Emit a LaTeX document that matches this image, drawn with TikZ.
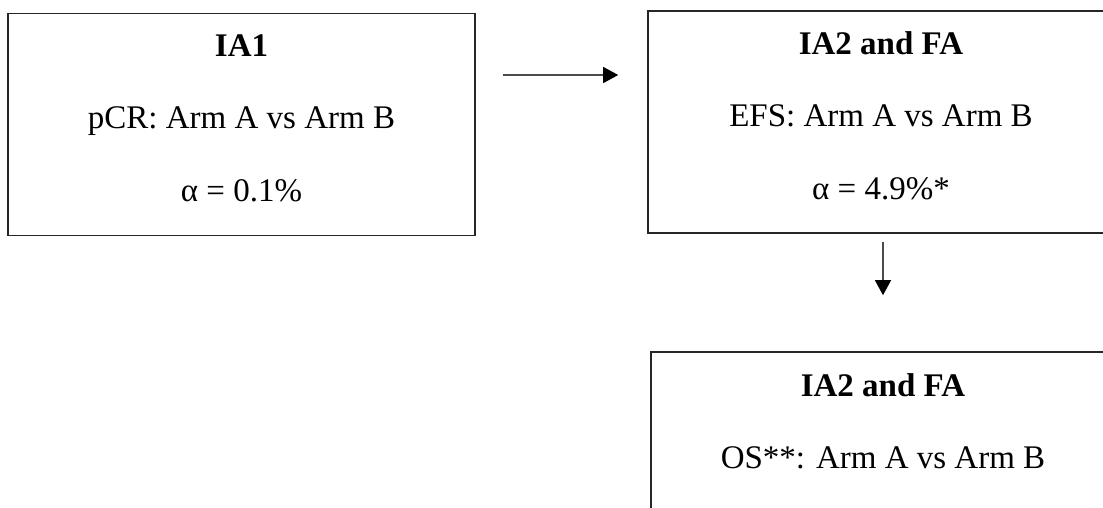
\documentclass[tikz,border=0pt]{standalone}
\usepackage{fontspec}
\setmainfont{Liberation Serif}
\usetikzlibrary{arrows.meta}
\begin{document}
\begin{tikzpicture}[x=1pt,y=-1pt,
  boxnode/.style={draw=black!85, line width=1.6pt, inner sep=0pt, minimum height=222pt},
  txt/.style={anchor=base, inner sep=0pt, font=\fontsize{33}{40}\selectfont},
  arr/.style={draw=black!70, line width=1.2pt, -{Triangle[length=15pt,width=16pt,color=black]}}]
\useasboundingbox (0,0) rectangle (1103,507);
\clip (0,0) rectangle (1103,507);
% boxes
\node[boxnode, minimum width=467pt] (b1) at (241.5,124.5) {};
\node[boxnode, minimum width=470pt] (b2) at (883,122) {};
\node[boxnode, minimum width=466pt] (b3) at (884,463) {};
% texts box 1
\node[txt] (b1h) at (241.5,56) {\textbf{IA1}};
\node[txt] (b1m) at (241.5,128.5) {pCR: Arm A vs Arm B};
\node[txt] (b1a) at (241.5,201) {α = 0.1\%};
% texts box 2
\node[txt] (b2h) at (881,54) {\textbf{IA2 and FA}};
\node[txt] (b2m) at (881,126.5) {EFS: Arm A vs Arm B};
\node[txt] (b2a) at (881,199) {α = 4.9\%*};
% texts box 3
\node[txt] (b3h) at (883,396) {\textbf{IA2 and FA}};
\node[txt] (b3m) at (883,468.5) {OS**: Arm A vs Arm B};
% connectors
\draw[arr, shorten <=27pt, shorten >=29pt] (b1.east |- 0,75) -- (b2.west |- 0,75);
\draw[arr, shorten <=8pt, shorten >=56pt] (b2.south) -- (b2.south |- b3.north);
\end{tikzpicture}
\end{document}
